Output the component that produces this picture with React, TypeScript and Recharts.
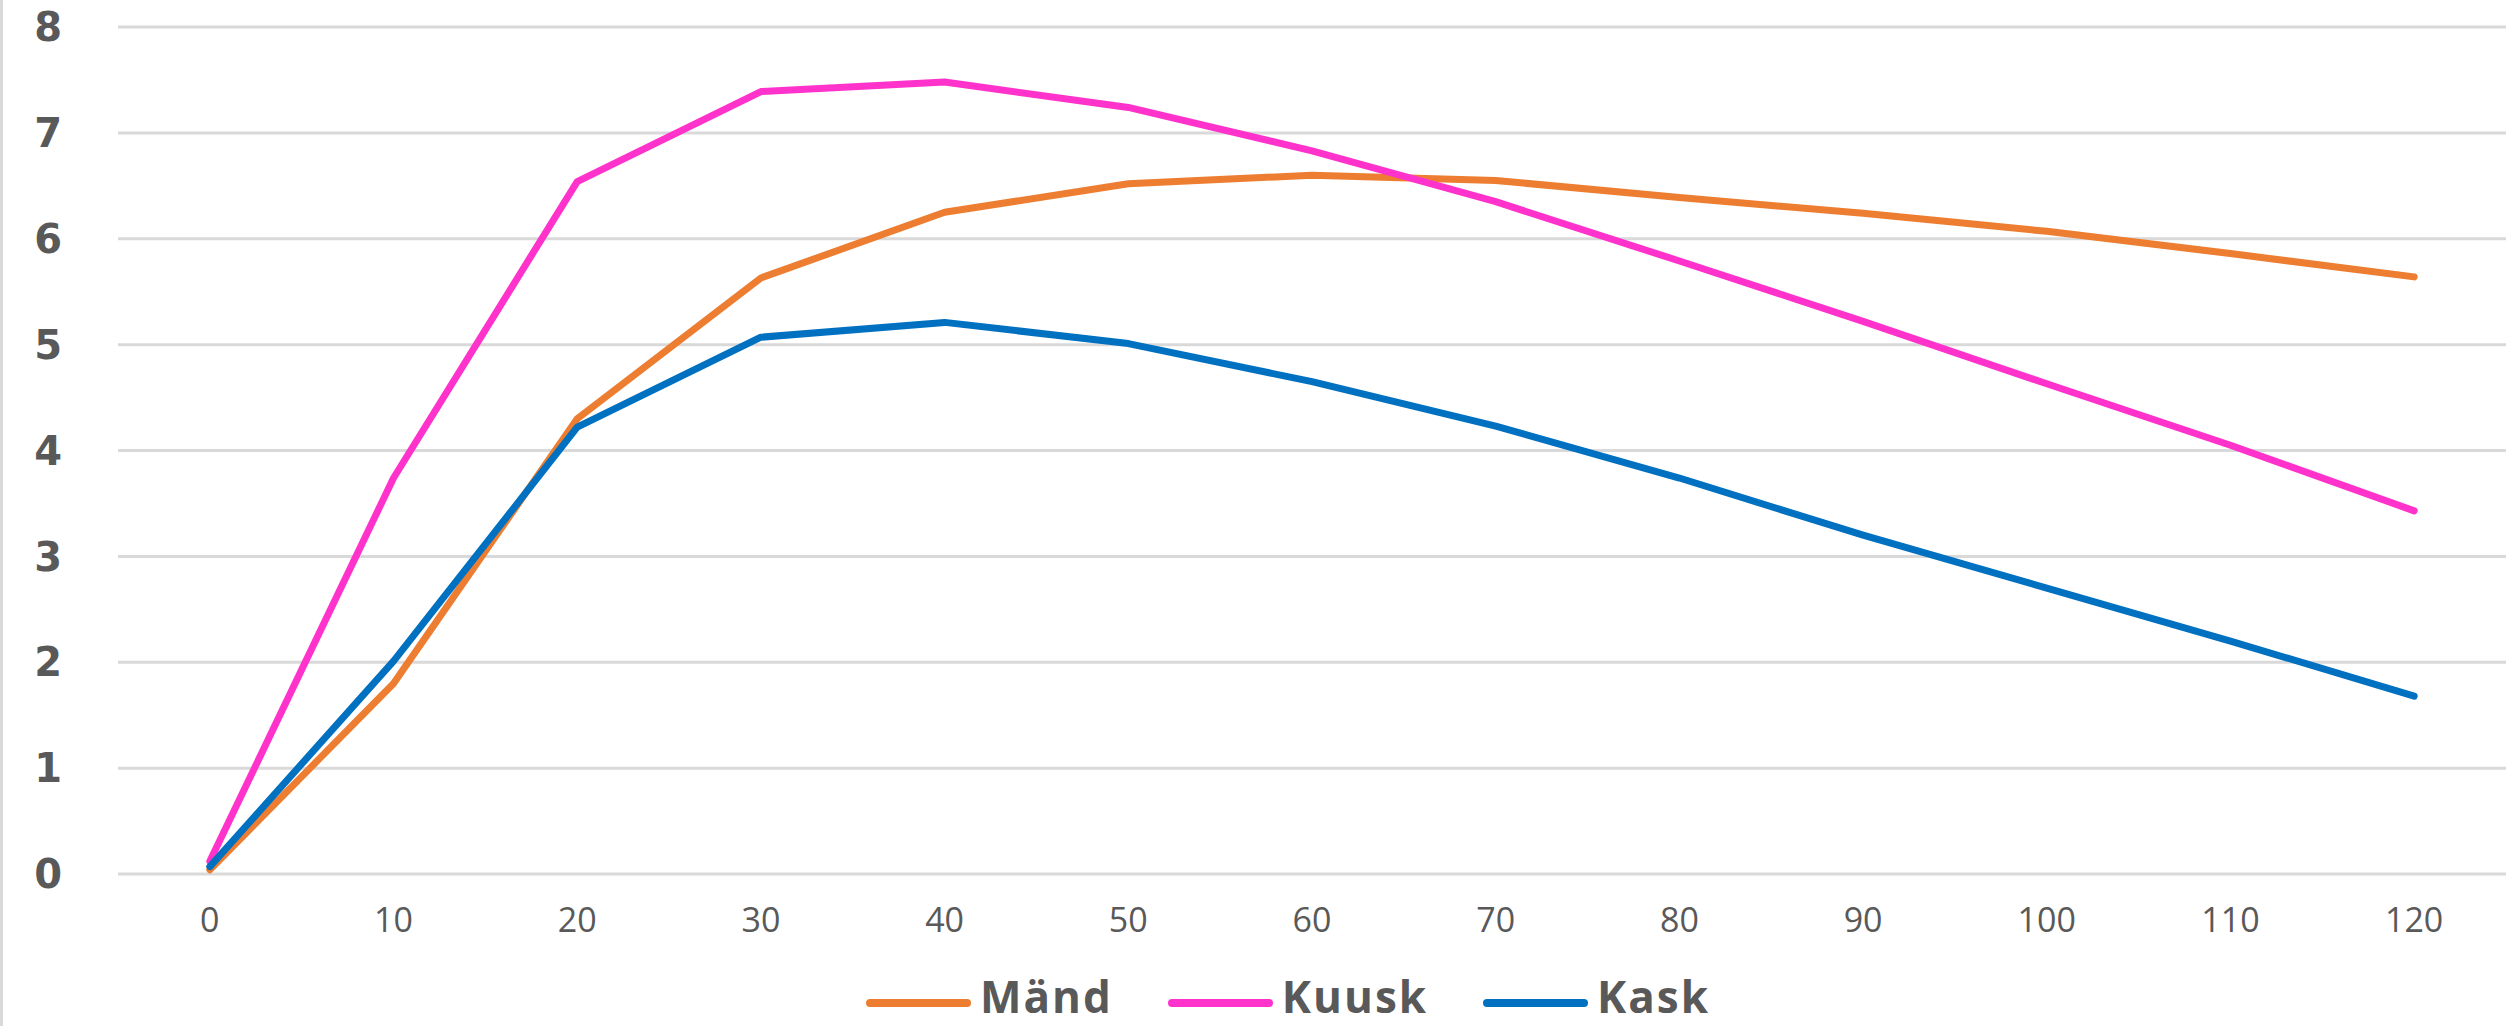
import { LineChart, Line, XAxis, YAxis, CartesianGrid, Legend } from "recharts";

const ages = [0, 10, 20, 30, 40, 50, 60, 70, 80, 90, 100, 110, 120];
const mand = [0.04, 1.8, 4.3, 5.63, 6.25, 6.52, 6.6, 6.55, 6.39, 6.24, 6.07, 5.86, 5.64];
const kuusk = [0.12, 3.74, 6.54, 7.39, 7.48, 7.24, 6.83, 6.35, 5.79, 5.22, 4.63, 4.05, 3.43];
const kask = [0.07, 2.01, 4.22, 5.07, 5.21, 5.01, 4.65, 4.23, 3.74, 3.2, 2.7, 2.2, 1.68];
const yTicks = [0, 1, 2, 3, 4, 5, 6, 7, 8];

const series = [
  { key: "Mänd", color: "#ED7D31", values: mand },
  { key: "Kuusk", color: "#FF33CC", values: kuusk },
  { key: "Kask", color: "#0070C0", values: kask },
];

const data = ages.map((age, i) => ({
  age,
  Mänd: mand[i],
  Kuusk: kuusk[i],
  Kask: kask[i],
}));

function LegendContent() {
  return (
    <div
      style={{
        display: "flex",
        justifyContent: "center",
        alignItems: "center",
        height: 36,
        paddingTop: 8,
        paddingLeft: 70,
        fontFamily: "'Open Sans', sans-serif",
        fontWeight: 700,
        fontSize: 44,
        letterSpacing: 2,
        color: "#595959",
      }}
    >
      {series.map((s, i) => (
        <div key={s.key} style={{ display: "flex", alignItems: "center", marginLeft: i === 0 ? 0 : 55 }}>
          <div
            style={{ width: 105, height: 8, borderRadius: 4, background: s.color, marginRight: 9, marginTop: 14 }}
          />
          <span style={{ lineHeight: "36px" }}>{s.key}</span>
        </div>
      ))}
    </div>
  );
}

export default function App() {
  return (
    <div style={{ position: "absolute", left: 0, top: 0, width: 2509, height: 1026, background: "#fff" }}>
      <div style={{ position: "absolute", left: 0, top: 0, width: 3, height: 1026, background: "#d9d9d9" }} />
      <LineChart width={2509} height={1026} data={data} margin={{ top: 27, right: 3, bottom: 0, left: 0 }}>
        <CartesianGrid vertical={false} stroke="#d9d9d9" strokeWidth={3} />
        <XAxis
          dataKey="age"
          type="number"
          domain={[-5, 125]}
          ticks={ages}
          axisLine={false}
          tickLine={false}
          tickSize={0}
          tickMargin={34}
          height={96}
          interval={0}
          tick={{ fill: "#595959", fontSize: 34, fontFamily: "'Open Sans', sans-serif" }}
        />
        <YAxis
          domain={[0, 8]}
          ticks={yTicks}
          axisLine={false}
          tickLine={false}
          tickSize={0}
          tickMargin={56}
          width={118}
          tick={{ fill: "#595959", fontSize: 40, fontWeight: 700, fontFamily: "'DejaVu Sans', sans-serif" }}
        />
        <Legend verticalAlign="bottom" height={56} content={<LegendContent />} />
        {series.map((s) => (
          <Line
            key={s.key}
            dataKey={s.key}
            type="linear"
            stroke={s.color}
            strokeWidth={7}
            strokeLinecap="round"
            strokeLinejoin="round"
            dot={false}
            activeDot={false}
            isAnimationActive={false}
          />
        ))}
      </LineChart>
    </div>
  );
}
